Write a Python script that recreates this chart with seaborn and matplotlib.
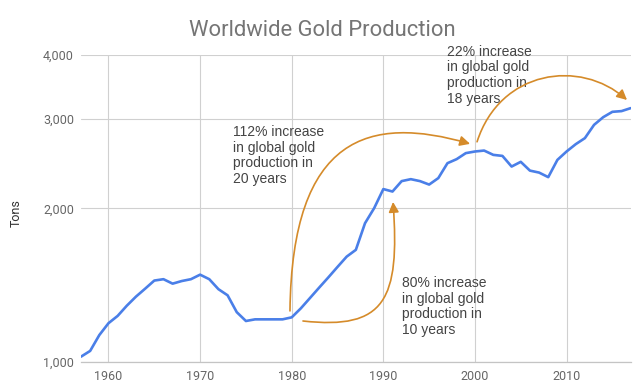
import numpy as np
import pandas as pd
import matplotlib
matplotlib.use("Agg")
import matplotlib.pyplot as plt
import seaborn as sns
from matplotlib.path import Path
from matplotlib.patches import FancyArrowPatch
from matplotlib.ticker import FixedLocator, NullLocator

# ---- data ----
years = list(range(1957, 2018))
tons = [1023, 1050, 1128, 1190, 1230, 1288, 1342, 1391, 1443, 1452,
        1423, 1440, 1452, 1482, 1452, 1388, 1350, 1251, 1202, 1211,
        1211, 1211, 1211, 1222, 1273, 1334, 1398, 1464, 1535, 1608,
        1658, 1870, 2002, 2182, 2158, 2262, 2282, 2262, 2227, 2293,
        2453, 2498, 2567, 2586, 2597, 2547, 2535, 2416, 2468, 2372,
        2351, 2303, 2490, 2586, 2673, 2747, 2917, 3020, 3094, 3104,
        3146]
y_ticks = [1000, 2000, 3000, 4000]
y_tick_labels = ["1,000", "2,000", "3,000", "4,000"]
x_ticks = [1960, 1970, 1980, 1990, 2000, 2010]
x_tick_labels = ["1960", "1970", "1980", "1990", "2000", "2010"]

title = "Worldwide Gold Production"
y_label = "Tons"
notes = [
    "112% increase\nin global gold\nproduction in\n20 years",
    "22% increase\nin global gold\nproduction in\n18 years",
    "80% increase\nin global gold\nproduction in\n10 years",
]

df = pd.DataFrame({"year": years, "tons": tons})

sns.set_theme(style="white")
plt.rcParams["font.family"] = ["Roboto", "DejaVu Sans"]

fig = plt.figure(figsize=(6.4, 3.86), dpi=100)
ax = fig.add_axes([81 / 640, 24.3 / 386, (630.7 - 81) / 640, (361.7 - 55) / 386])

sns.lineplot(data=df, x="year", y="tons", ax=ax, color="#4a7fe8",
             linewidth=1.9, zorder=3)

ax.set_yscale("log")
ax.set_ylim(1000, 4000)
ax.set_xlim(1957, 2017)
ax.yaxis.set_major_locator(FixedLocator(y_ticks))
ax.yaxis.set_minor_locator(NullLocator())
ax.set_yticklabels(y_tick_labels)
ax.set_xticks(x_ticks)
ax.set_xticklabels(x_tick_labels)
ax.set_xlabel("")
ax.set_ylabel("")

ax.grid(True, color="#d0d0d0", linewidth=0.8)
for s in ["top", "right", "left"]:
    ax.spines[s].set_visible(False)
ax.spines["bottom"].set_color("#c4c4c4")
ax.spines["bottom"].set_linewidth(0.9)
ax.tick_params(axis="both", length=0, labelsize=9, colors="#666666")
ax.tick_params(axis="y", pad=5)
ax.tick_params(axis="x", pad=6)

fig.text(0.503, 1 - 30 / 386, title, ha="center", va="center",
         fontsize=15.8, color="#757575")
fig.text(16 / 640, 1 - 213 / 386, y_label, rotation=90, ha="center",
         va="center", fontsize=9, color="#333333")

# ---- annotations ----
note_pos = [(1973.56, 2917), (1996.99, 4190), (1992.0, 1473)]
for txt, (x, y) in zip(notes, note_pos):
    ax.text(x, y, txt, ha="left", va="top", fontsize=10,
            family=["Liberation Sans", "DejaVu Sans"], color="#444444",
            linespacing=1.15, clip_on=False, zorder=5)

arrow_color = "#d58b2a"
arrows = [
    [(1979.81, 1258), (1980.03, 2787), (1988.55, 3050), (1999.47, 2677)],
    [(1981.23, 1202), (1990.19, 1154), (1991.82, 1322), (1991.06, 2059)],
    [(2000.23, 2702), (2002.74, 3737), (2011.47, 3940), (2016.6, 3264)],
]
fig.canvas.draw()
for pts in arrows:
    disp = ax.transData.transform(np.array(pts))
    path = Path(disp, [Path.MOVETO, Path.CURVE4, Path.CURVE4, Path.CURVE4])
    arr = FancyArrowPatch(path=path, arrowstyle="-|>,head_length=0.6,head_width=0.3",
                          mutation_scale=10, color=arrow_color, linewidth=1.2,
                          zorder=4, clip_on=False)
    arr.set_transform(matplotlib.transforms.IdentityTransform())
    fig.add_artist(arr)

fig.savefig("out.png", dpi=100)
